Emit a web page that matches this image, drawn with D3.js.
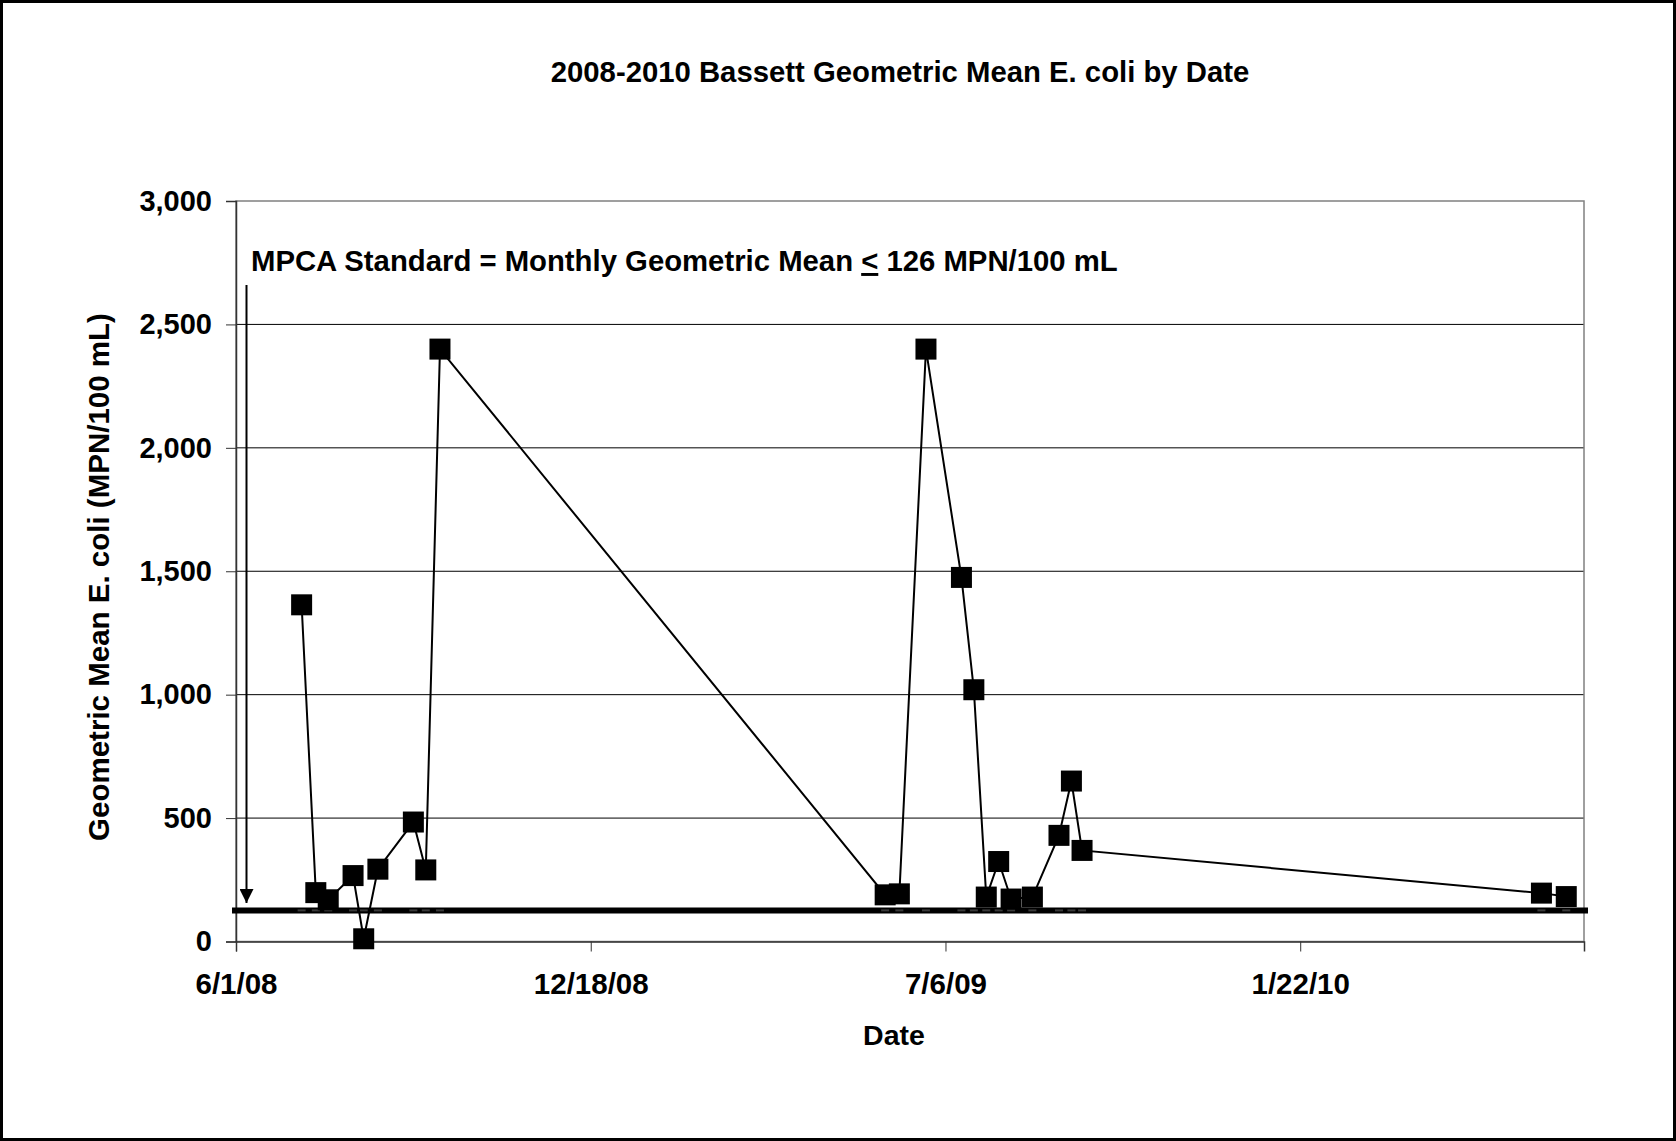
<!DOCTYPE html>
<html>
<head>
<meta charset="utf-8">
<script src="https://cdn.jsdelivr.net/npm/d3@7"></script>
<style>
  body { margin: 0; background: #fff; }
  svg { display: block; font-family: "Liberation Sans", Arial, sans-serif; font-weight: bold; }
</style>
</head>
<body>
<div id="container"></div>
<script>
// sample dates and geometric means
const sampleDates = [
    "2008-07-08", "2008-07-16", "2008-07-23", "2008-08-06", "2008-08-12", "2008-08-20",
    "2008-09-09", "2008-09-16", "2008-09-24",
    "2009-06-02", "2009-06-10", "2009-06-25", "2009-07-15", "2009-07-22", "2009-07-29",
    "2009-08-05", "2009-08-12", "2009-08-24", "2009-09-08", "2009-09-15", "2009-09-21",
    "2010-06-07", "2010-06-21"
];
const geoMeans = [
    1364, 198, 169, 267, 11, 293,
    484, 290, 2400,
    189, 193, 2400, 1475, 1020, 180,
    324, 172, 180, 430, 650, 369,
    196, 182
];
const xTickDates = ["2008-06-01", "2008-12-18", "2009-07-06", "2010-01-22"];
const xDomain = ["2008-06-01", "2010-07-01"];
const yTicks = [0, 500, 1000, 1500, 2000, 2500, 3000];
const standard = 126;

const width = 1676, height = 1141;
const plot = { left: 236, right: 1584, top: 201, bottom: 941.5 };

const parse = d3.utcParse("%Y-%m-%d");
const fmtDate = d3.utcFormat("%-m/%-d/%y");
const data = sampleDates.map((d, i) => ({ date: parse(d), value: geoMeans[i] }));

const x = d3.scaleUtc()
    .domain(xDomain.map(parse))
    .range([plot.left, plot.right]);

const y = d3.scaleLinear()
    .domain([0, 3000])
    .range([plot.bottom, plot.top]);

const svg = d3.create("svg")
    .attr("width", width)
    .attr("height", height);

// outer chart border
svg.append("rect")
    .attr("x", 1.5).attr("y", 1.5)
    .attr("width", width - 3).attr("height", height - 3)
    .attr("fill", "#fff")
    .attr("stroke", "#000")
    .attr("stroke-width", 3);

// gridlines
svg.append("g")
    .selectAll("line")
    .data(yTicks.filter(t => t > 0 && t < 3000))
    .join("line")
    .attr("x1", plot.left).attr("x2", plot.right)
    .attr("y1", d => y(d)).attr("y2", d => y(d))
    .attr("stroke", "#000")
    .attr("stroke-width", 1);

// plot area border
svg.append("rect")
    .attr("x", plot.left).attr("y", plot.top)
    .attr("width", plot.right - plot.left).attr("height", plot.bottom - plot.top)
    .attr("fill", "none")
    .attr("stroke", "#808080")
    .attr("stroke-width", 1.5);

// y axis
const yAxis = svg.append("g")
    .attr("transform", `translate(${plot.left},0)`)
    .call(d3.axisLeft(y).tickValues(yTicks).tickSize(10).tickPadding(14).tickFormat(d3.format(",")));
yAxis.select(".domain").attr("stroke", "#333").attr("stroke-width", 1.5);
yAxis.selectAll(".tick line").attr("stroke", "#333");
yAxis.selectAll(".tick text")
    .attr("font-size", 29)
    .attr("font-family", "'Liberation Sans', Arial, sans-serif")
    .attr("font-weight", "bold")
    .attr("fill", "#000");

// x axis
const xAxis = svg.append("g")
    .attr("transform", `translate(0,${plot.bottom})`)
    .call(d3.axisBottom(x).tickValues(xTickDates.map(parse)).tickSize(10).tickPadding(22).tickFormat(fmtDate));
xAxis.select(".domain").attr("stroke", "#333").attr("stroke-width", 1.5);
xAxis.selectAll(".tick line").attr("stroke", "#333");
xAxis.selectAll(".tick text")
    .attr("font-size", 29.5)
    .attr("font-family", "'Liberation Sans', Arial, sans-serif")
    .attr("font-weight", "bold")
    .attr("fill", "#000");

// standard line (drawn shape, slightly past the plot edges)
svg.append("line")
    .attr("x1", plot.left - 4).attr("x2", plot.right + 4)
    .attr("y1", y(standard)).attr("y2", y(standard))
    .attr("stroke", "#000")
    .attr("stroke-width", 6);

// standard series dash markers
svg.append("g")
    .selectAll("rect")
    .data(data)
    .join("rect")
    .attr("x", d => x(d.date) - 4)
    .attr("y", y(standard) - 1)
    .attr("width", 8)
    .attr("height", 2)
    .attr("fill", "#3a3a3a");

// arrow from label down to the standard line
svg.append("defs")
    .append("marker")
    .attr("id", "arrowhead")
    .attr("viewBox", "0 0 10 10")
    .attr("refX", 10).attr("refY", 5)
    .attr("markerWidth", 7).attr("markerHeight", 7)
    .attr("markerUnits", "strokeWidth")
    .attr("orient", "auto")
    .append("path")
    .attr("d", "M0,0L10,5L0,10Z")
    .attr("fill", "#000");

svg.append("line")
    .attr("x1", 246.5).attr("x2", 246.5)
    .attr("y1", 285).attr("y2", 903)
    .attr("stroke", "#000")
    .attr("stroke-width", 2)
    .attr("marker-end", "url(#arrowhead)");

// data line
const line = d3.line()
    .x(d => x(d.date))
    .y(d => y(d.value));

svg.append("path")
    .datum(data)
    .attr("fill", "none")
    .attr("stroke", "#000")
    .attr("stroke-width", 2)
    .attr("d", line);

// square markers
const size = 21;
svg.append("g")
    .selectAll("rect")
    .data(data)
    .join("rect")
    .attr("x", d => x(d.date) - size / 2)
    .attr("y", d => y(d.value) - size / 2)
    .attr("width", size)
    .attr("height", size)
    .attr("fill", "#000");

// title
svg.append("text")
    .attr("x", 900).attr("y", 82)
    .attr("text-anchor", "middle")
    .attr("font-size", 29.3)
    .text("2008-2010 Bassett Geometric Mean E. coli by Date");

// standard annotation
const note = svg.append("text")
    .attr("x", 251).attr("y", 271)
    .attr("font-size", 29.3);
note.append("tspan").text("MPCA Standard = Monthly Geometric Mean ");
note.append("tspan").attr("text-decoration", "underline").text("<");
note.append("tspan").text(" 126 MPN/100 mL");

// axis titles
svg.append("text")
    .attr("x", 894).attr("y", 1045)
    .attr("text-anchor", "middle")
    .attr("font-size", 28.5)
    .text("Date");

svg.append("text")
    .attr("transform", "translate(109,577) rotate(-90)")
    .attr("text-anchor", "middle")
    .attr("font-size", 29.5)
    .text("Geometric Mean E. coli (MPN/100 mL)");

document.getElementById("container").append(svg.node());
</script>
</body>
</html>
